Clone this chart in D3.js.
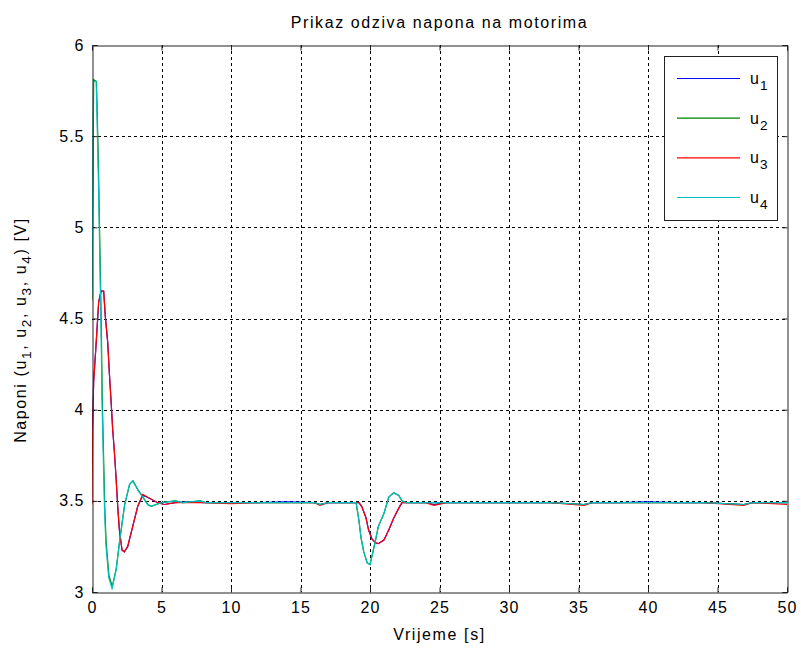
<!DOCTYPE html>
<html><head><meta charset="utf-8">
<script src="https://cdn.jsdelivr.net/npm/d3@7"></script>
<style>body{margin:0;background:#fff}svg{display:block}text{font-family:"Liberation Sans",Arial,sans-serif}</style>
</head><body>
<svg id="c" width="801" height="651"></svg>
<script>
// ---- data ----
const title = "Prikaz odziva napona na motorima";
const xTicks = [0,5,10,15,20,25,30,35,40,45,50];
const yTicks = [3,3.5,4,4.5,5,5.5,6];
const yTickLabels = ["3","3.5","4","4.5","5","5.5","6"];
const seriesNames = ["u1","u2","u3","u4"];
const seriesColors = ["#0000ff","#008000","#ff0000","#00bfbf"];

const t1 = [0,0.05,0.12,0.27,0.48,0.65,0.84,0.96,1.13,1.25,1.37,1.49,1.6,1.72,1.85,1.97,2.16,2.33,2.57,2.93,3.29,3.65,4.0,4.37,4.73,5.2,6,7,8,10,12,14,16,16.4,17,19.2,19.4,19.7,19.9,20.15,20.4,20.6,21.0,21.35,21.7,22.07,22.3,22.6,24,24.6,25.5,28,30,33,35.4,36,38,40,42,44,46.9,47.5,49,50];
const u1 = [3.85,3.95,4.16,4.33,4.59,4.65,4.65,4.51,4.37,4.20,4.05,3.89,3.78,3.64,3.47,3.34,3.23,3.22,3.25,3.36,3.47,3.53,3.52,3.505,3.49,3.48,3.49,3.495,3.49,3.49,3.49,3.495,3.49,3.48,3.49,3.49,3.47,3.41,3.34,3.29,3.27,3.265,3.285,3.34,3.405,3.46,3.49,3.49,3.49,3.48,3.49,3.49,3.49,3.49,3.48,3.49,3.49,3.495,3.49,3.49,3.48,3.49,3.49,3.49];
const t3 = t1;
const u3 = [3.48,3.9,4.15,4.33,4.59,4.65,4.65,4.51,4.37,4.20,4.05,3.89,3.78,3.64,3.47,3.34,3.23,3.22,3.25,3.36,3.47,3.535,3.52,3.505,3.49,3.48,3.49,3.49,3.49,3.485,3.49,3.49,3.49,3.475,3.49,3.49,3.47,3.41,3.34,3.29,3.27,3.265,3.285,3.34,3.405,3.46,3.49,3.49,3.49,3.475,3.49,3.49,3.49,3.49,3.475,3.49,3.49,3.49,3.49,3.49,3.475,3.49,3.485,3.48];

const t4 = [0,0.1,0.3,0.35,0.45,0.55,0.65,0.72,0.8,0.9,1.0,1.2,1.44,1.73,1.97,2.33,2.69,2.93,3.29,3.65,4.0,4.25,4.6,5.0,6.0,6.5,7.8,8.2,10,12,14,16,16.4,17,19.0,19.2,19.35,19.55,19.8,20.0,20.15,20.4,20.6,21.0,21.35,21.7,22.07,22.3,22.6,24,26,30,33,35.4,36,38,40,42,44,46.9,47.5,49,50];
const u4 = [4.64,5.80,5.80,5.64,5.30,4.88,4.44,4.05,3.78,3.45,3.26,3.08,3.02,3.12,3.27,3.47,3.59,3.61,3.56,3.52,3.48,3.47,3.48,3.49,3.5,3.49,3.5,3.49,3.49,3.49,3.49,3.49,3.48,3.49,3.49,3.395,3.30,3.22,3.16,3.15,3.20,3.285,3.36,3.43,3.52,3.545,3.53,3.50,3.49,3.49,3.49,3.49,3.49,3.48,3.49,3.49,3.49,3.49,3.49,3.48,3.49,3.49,3.49];
const t2 = [0,0.12,0.32,0.37,0.47,0.57,0.67,0.74,0.82,0.92,1.02,1.22,1.46,1.75,1.99,2.35,2.71,2.95,3.31,3.67,4.02,4.27,4.62,5.0,6.0,6.5,7.8,8.2,10,12,14,16,16.4,17,19.0,19.2,19.35,19.55,19.8,20.0,20.15,20.4,20.6,21.0,21.35,21.7,22.07,22.3,22.6,24,26,30,33,35.4,36,38,40,42,44,46.9,47.5,49,50];
const u2 = [4.6,5.81,5.80,5.65,5.31,4.89,4.45,4.06,3.79,3.46,3.27,3.09,3.03,3.13,3.28,3.48,3.59,3.61,3.56,3.52,3.48,3.47,3.48,3.49,3.5,3.49,3.5,3.49,3.49,3.49,3.49,3.49,3.48,3.49,3.49,3.395,3.30,3.22,3.16,3.15,3.20,3.285,3.36,3.43,3.52,3.545,3.53,3.50,3.49,3.49,3.49,3.49,3.49,3.48,3.49,3.49,3.49,3.49,3.49,3.48,3.49,3.49,3.49];

const seriesT = [t1,t2,t3,t4];
const seriesV = [u1,u2,u3,u4];

// ---- layout ----
const L = 92, R = 787, T = 45, B = 592;
const svg = d3.select("#c");
const x = d3.scaleLinear().domain([0,50]).range([L,R]);
const y = d3.scaleLinear().domain([3,6]).range([B,T]);
const fs = 16, ls = "1.6px";

// grid
const g = svg.append("g");
g.selectAll("line.gx").data(xTicks.filter(d=>d>0&&d<50)).join("line")
  .attr("x1",d=>Math.round(x(d))+0.5).attr("x2",d=>Math.round(x(d))+0.5).attr("y1",T).attr("y2",B)
  .attr("stroke","#000").attr("stroke-dasharray","3,3").attr("stroke-width",1);
g.selectAll("line.gy").data(yTicks.filter(d=>d>3&&d<6)).join("line")
  .attr("y1",d=>Math.round(y(d))+0.5).attr("y2",d=>Math.round(y(d))+0.5).attr("x1",L).attr("x2",R)
  .attr("stroke","#000").attr("stroke-dasharray","3,3").attr("stroke-width",1);

// series
const line = d3.line().x(d=>x(d[0])).y(d=>y(d[1]));
svg.append("clipPath").attr("id","clp").append("rect").attr("x",L).attr("y",T).attr("width",R-L).attr("height",B-T);
seriesV.forEach((v,i)=>{
  const pts = seriesT[i].map((t,j)=>[t,v[j]]);
  svg.append("path").datum(pts).attr("d",line).attr("fill","none")
    .attr("stroke",seriesColors[i]).attr("stroke-width",1.2).attr("clip-path","url(#clp)");
});

// axes (box with inner ticks)
const axB = d3.axisBottom(x).tickValues(xTicks).tickSize(-5).tickPadding(9);
const axT = d3.axisTop(x).tickValues(xTicks).tickSize(-5).tickFormat("");
const axL = d3.axisLeft(y).tickValues(yTicks).tickSize(-5).tickPadding(8).tickFormat((d,i)=>yTickLabels[i]);
const axR = d3.axisRight(y).tickValues(yTicks).tickSize(-5).tickFormat("");
function style(sel){ sel.selectAll("path,line").attr("stroke","#222"); sel.selectAll("text").attr("font-size",fs).attr("fill","#000").attr("letter-spacing","1px").attr("font-family","Liberation Sans, Arial, sans-serif"); }
svg.append("g").attr("transform",`translate(0,${B+0.5})`).call(axB).call(style);
svg.append("g").attr("transform",`translate(0,${T+0.5})`).call(axT).call(style);
svg.append("g").attr("transform",`translate(${L+0.5},0)`).call(axL).call(style);
svg.append("g").attr("transform",`translate(${R+0.5},0)`).call(axR).call(style);
svg.selectAll(".domain").attr("stroke","#222");

// title and labels
svg.append("text").attr("x",(L+R)/2).attr("y",28).attr("text-anchor","middle").attr("font-size",fs).attr("letter-spacing",ls).text(title);
svg.append("text").attr("x",(L+R)/2).attr("y",640).attr("text-anchor","middle").attr("font-size",fs).attr("letter-spacing",ls).text("Vrijeme [s]");
const yl = svg.append("text").attr("transform",`translate(26,330) rotate(-90)`).attr("text-anchor","middle").attr("font-size",fs).attr("letter-spacing",ls);
const parts = [["Naponi (u",false],["1",true],[", u",false],["2",true],[", u",false],["3",true],[", u",false],["4",true],[") [V]",false]];
parts.forEach((p,i)=>{
  const ts = yl.append("tspan").text(p[0]);
  if(p[1]) ts.attr("font-size",fs*0.85).attr("dy",5);
  else if(i>0) ts.attr("dy",-5);
});

// legend
const lg = svg.append("g");
lg.append("rect").attr("x",664.5).attr("y",56.5).attr("width",113).attr("height",164).attr("fill","#fff").attr("stroke","#222");
const legY = d3.scaleLinear().domain([0,3]).range([78,197]);
seriesNames.forEach((n,i)=>{
  lg.append("line").attr("x1",677).attr("x2",740).attr("y1",legY(i)+0.5).attr("y2",legY(i)+0.5).attr("stroke",seriesColors[i]).attr("stroke-width",1.2);
  const tx = lg.append("text").attr("x",750).attr("y",legY(i)+6).attr("font-size",fs).attr("letter-spacing","1px");
  tx.append("tspan").text(n[0]);
  tx.append("tspan").text(n.slice(1)).attr("font-size",fs*0.85).attr("dy",6);
});
</script>
</body></html>
